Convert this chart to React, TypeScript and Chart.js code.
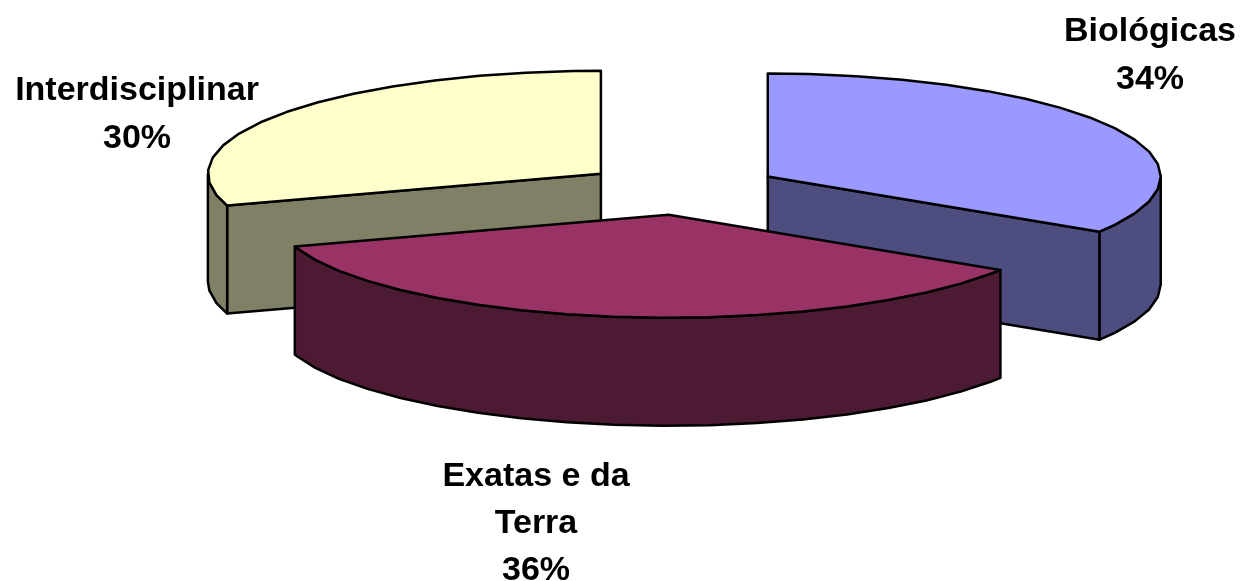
import React, { useEffect, useRef } from "react";
import { Chart, registerables } from "chart.js";

Chart.register(...registerables);

const categories = ["Biológicas", "Exatas e da Terra", "Interdisciplinar"];
const labelLines = [["Biológicas"], ["Exatas e da", "Terra"], ["Interdisciplinar"]];
const values = [34, 36, 30];
const colors = ["#9999FF", "#993366", "#FFFFCC"];

const TILT = 0.262;
const DEPTH = 108;
const STEP = (7 * Math.PI) / 180;
const LABEL_FONT = 'bold 34px "Liberation Sans", Arial, sans-serif';
const labelAnchors = [
  { x: 1150, y: 41, leading: 48 },
  { x: 536, y: 486, leading: 47 },
  { x: 137, y: 100, leading: 48 },
];

function darken(hex: string): string {
  const n = parseInt(hex.slice(1), 16);
  const r = (n >> 16) & 255;
  const g = (n >> 8) & 255;
  const b = n & 255;
  return `rgb(${Math.round(r / 2)},${Math.round(g / 2)},${Math.round(b / 2)})`;
}

function rimPoints(cx: number, cy: number, r: number, a0: number, a1: number, dy = 0) {
  const pts: [number, number][] = [];
  const first = Math.ceil(a0 / STEP) * STEP;
  const push = (a: number) => pts.push([cx + Math.cos(a) * r, cy + Math.sin(a) * r * TILT + dy]);
  push(a0);
  for (let a = first; a < a1; a += STEP) if (a > a0) push(a);
  push(a1);
  return pts;
}

function fillPath(ctx: CanvasRenderingContext2D, pts: [number, number][], fill: string) {
  ctx.beginPath();
  pts.forEach((p, i) => (i ? ctx.lineTo(p[0], p[1]) : ctx.moveTo(p[0], p[1])));
  ctx.closePath();
  ctx.fillStyle = fill;
  ctx.fill();
  ctx.stroke();
}

const pie3d = {
  id: "pie3d",
  beforeDatasetDraw(chart: any) {
    const ctx: CanvasRenderingContext2D = chart.ctx;
    const arcs = chart.getDatasetMeta(0).data.map((arc: any, i: number) => {
      const mid = (arc.startAngle + arc.endAngle) / 2;
      const off = arc.options.offset;
      return {
        cx: arc.x + Math.cos(mid) * off,
        cy: arc.y + Math.sin(mid) * off * TILT,
        r: arc.outerRadius,
        a0: arc.startAngle,
        a1: arc.endAngle,
        mid,
        color: arc.options.backgroundColor,
        i,
      };
    });
    arcs.sort((a: any, b: any) => Math.sin(a.mid) - Math.sin(b.mid));
    ctx.save();
    ctx.lineWidth = 2.5;
    ctx.lineJoin = "round";
    ctx.strokeStyle = "#000";
    for (const s of arcs) {
      const dark = darken(s.color);
      const face = (a: number) => {
        const x = s.cx + Math.cos(a) * s.r;
        const y = s.cy + Math.sin(a) * s.r * TILT;
        fillPath(ctx, [[s.cx, s.cy], [x, y], [x, y + DEPTH], [s.cx, s.cy + DEPTH]], dark);
      };
      if (Math.cos(s.a0) < -1e-6) face(s.a0);
      if (Math.cos(s.a1) > 1e-6) face(s.a1);
      const w0 = Math.max(s.a0, 0);
      const w1 = Math.min(s.a1, Math.PI);
      if (w1 > w0) {
        const top = rimPoints(s.cx, s.cy, s.r, w0, w1);
        const bottom = rimPoints(s.cx, s.cy, s.r, w0, w1, DEPTH).reverse();
        fillPath(ctx, [...top, ...bottom], dark);
      }
      fillPath(ctx, [[s.cx, s.cy], ...rimPoints(s.cx, s.cy, s.r, s.a0, s.a1)], s.color);
    }
    ctx.restore();
    return false;
  },
  afterDraw(chart: any) {
    const ctx: CanvasRenderingContext2D = chart.ctx;
    const data: number[] = chart.data.datasets[0].data;
    const total = data.reduce((a, b) => a + b, 0);
    ctx.save();
    ctx.font = LABEL_FONT;
    ctx.fillStyle = "#000";
    ctx.textAlign = "center";
    ctx.textBaseline = "alphabetic";
    data.forEach((v, i) => {
      const lines = [...labelLines[i], `${Math.round((v / total) * 100)}%`];
      const a = labelAnchors[i];
      lines.forEach((t, k) => ctx.fillText(t, a.x, a.y + k * a.leading));
    });
    ctx.restore();
  },
};

export default function App() {
  const ref = useRef<HTMLCanvasElement>(null);
  useEffect(() => {
    const chart = new Chart(ref.current!, {
      type: "pie",
      data: {
        labels: categories,
        datasets: [{ data: values, backgroundColor: colors, offset: 99, radius: 393 }],
      },
      options: {
        responsive: false,
        animation: false,
        layout: { padding: { left: 119, bottom: 203 } },
        plugins: { legend: { display: false }, tooltip: { enabled: false } },
      },
      plugins: [pie3d],
    } as any);
    return () => chart.destroy();
  }, []);
  return (
    <div style={{ position: "absolute", left: 0, top: 0, width: 1243, height: 581, background: "#fff" }}>
      <canvas ref={ref} width={1243} height={581} style={{ display: "block" }} />
    </div>
  );
}
